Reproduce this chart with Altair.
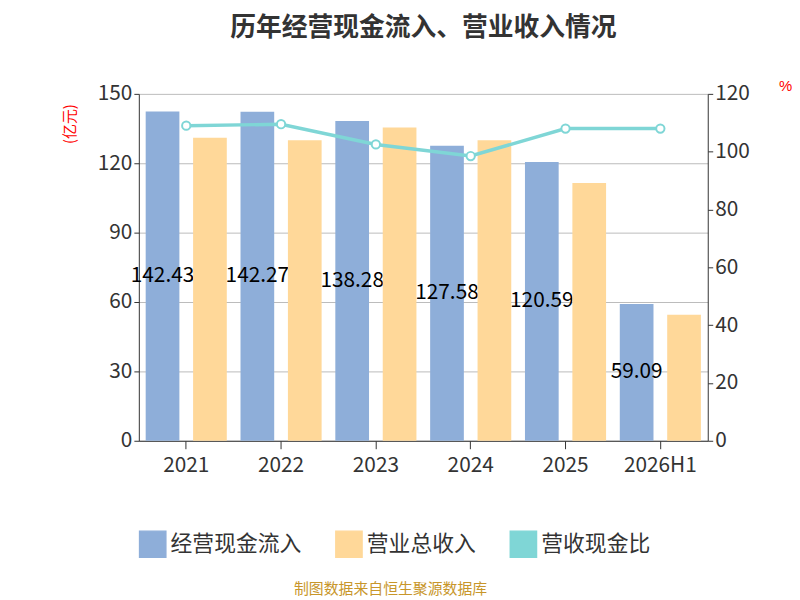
import altair as alt
import pandas as pd

years = ["2021", "2022", "2023", "2024", "2025", "2026H1"]
cash_in = [142.43, 142.27, 138.28, 127.58, 120.59, 59.09]
revenue = [131.0, 130.0, 135.5, 130.0, 111.5, 54.5]
ratio = [109.0, 109.5, 102.5, 98.5, 108.0, 108.0]

s1, s2, s3 = "经营现金流入", "营业总收入", "营收现金比"
font = "Noto Sans CJK SC"

rows = []
for y, a, b in zip(years, cash_in, revenue):
    rows.append({"year": y, "series": s1, "v": a, "half": a / 2, "lab": f"{a:.2f}"})
    rows.append({"year": y, "series": s2, "v": b, "half": b / 2, "lab": ""})
bars_df = pd.DataFrame(rows)
line_df = pd.DataFrame({"year": years, "r": ratio, "series": s3})

xenc = alt.X("year:N", sort=years, title=None,
             scale=alt.Scale(paddingInner=0.0, paddingOuter=0.0),
             axis=alt.Axis(labelAngle=0, labelFontSize=21, labelColor="#333", domainColor="#333",
                           tickColor="#333", tickSize=8, labelPadding=6, labelFont=font))
yscale = alt.Scale(domain=[0, 150])
color = alt.Color("series:N", sort=[s1, s2, s3],
                  scale=alt.Scale(domain=[s1, s2, s3], range=["#8eaed9", "#ffd899", "#7fd6d6"]),
                  legend=alt.Legend(orient="bottom", title=None, labelFontSize=22, labelFont=font,
                                    labelColor="#333", symbolSize=700, columnPadding=30, offset=55))

base = alt.Chart(bars_df)
blue = base.transform_filter(alt.datum.series == s1).mark_bar(width=34).encode(
    x=xenc, xOffset=alt.XOffset("series:N", sort=[s1, s2]),
    y=alt.Y("v:Q", scale=yscale, title="(亿元)",
            axis=alt.Axis(values=[0, 30, 60, 90, 120, 150], labelFontSize=21, labelColor="#333",
                          titleColor="red", titleFontSize=15, titleFont=font, titleFontWeight="normal",
                          titleAngle=-90, titleX=-62, titleY=30, domainColor="#333", tickColor="#333",
                          gridColor="#bbb", labelFont=font)),
    color=color)
text = base.transform_filter(alt.datum.series == s1).mark_text(fontSize=21, color="black", font=font).encode(
    x=xenc, xOffset=alt.XOffset("series:N", sort=[s1, s2]),
    y=alt.Y("half:Q", scale=yscale), text="lab:N")
orange = base.transform_filter(alt.datum.series == s2).mark_bar(width=34).encode(
    x=xenc, xOffset=alt.XOffset("series:N", sort=[s1, s2]),
    y=alt.Y("v:Q", scale=yscale), color=color)
source = alt.Chart(pd.DataFrame({"t": ["制图数据来自恒生聚源数据库"]})).mark_text(
    fontSize=15, color="#c8962a", font=font).encode(
    text="t:N", x=alt.value(254), y=alt.value(500))
left = alt.layer(blue, text, orange, source)

rscale = alt.Scale(domain=[0, 120])
raxis = alt.Axis(orient="right", values=[0, 20, 40, 60, 80, 100, 120], labelFontSize=21, labelColor="#333",
                 title="%", titleColor="red", titleFontSize=15, titleAngle=0, titleFontWeight="normal",
                 titleX=78, titleY=0, domainColor="#333", tickColor="#333", grid=False, labelFont=font)
line = alt.Chart(line_df).mark_line(color="#7fd6d6", strokeWidth=3.5).encode(
    x=xenc, y=alt.Y("r:Q", scale=rscale, axis=raxis), color=color)
pts = alt.Chart(line_df).mark_point(filled=True, fill="white", stroke="#7fd6d6", size=70, strokeWidth=2, opacity=1).encode(
    x=xenc, y=alt.Y("r:Q", scale=rscale, axis=None))

chart = alt.layer(left, line, pts).resolve_scale(y="independent").properties(
    width=574, height=350,
    title=alt.TitleParams("历年经营现金流入、营业收入情况", fontSize=26, font=font, color="#333",
                          fontWeight="bold", offset=38, anchor="middle"),
    padding={"left": 55, "top": 5, "right": 0, "bottom": 0}
).configure_view(stroke=None)

chart.save("out.html", embed_options={"renderer": "svg", "actions": False})
